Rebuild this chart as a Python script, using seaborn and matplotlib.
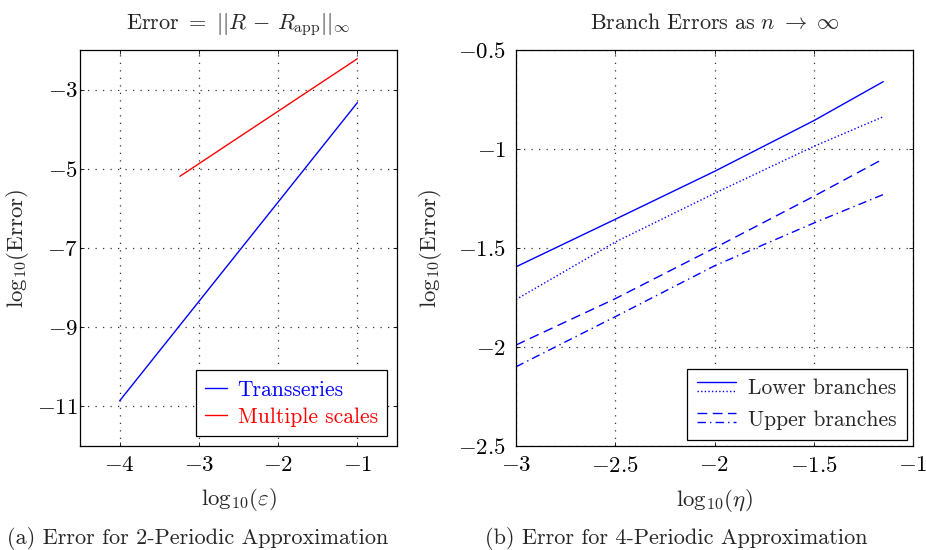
import numpy as np
import pandas as pd
import matplotlib
matplotlib.use("Agg")
import matplotlib.pyplot as plt
import seaborn as sns
from matplotlib.lines import Line2D
from matplotlib.legend_handler import HandlerBase
from matplotlib.ticker import FuncFormatter, FixedLocator

# ---- data (a) ----
trans_x = [-4.0, -1.0]
trans_y = [-10.86, -3.33]
multi_x = [-3.24, -1.0]
multi_y = [-5.19, -2.22]

# ---- data (b) ----
eta_x = [-3.0, -2.5, -2.0, -1.5, -1.15]
lower_solid = [-1.595, -1.355, -1.113, -0.857, -0.66]
lower_dotted = [-1.76, -1.47, -1.224, -0.987, -0.837]
upper_dashed = [-1.99, -1.756, -1.50, -1.239, -1.05]
upper_dashdot = [-2.10, -1.847, -1.59, -1.374, -1.23]

sns.set_theme(style="ticks")
plt.rcParams.update({
    "font.family": "serif",
    "font.serif": ["cmr10"],
    "mathtext.fontset": "cm",
    "axes.formatter.use_mathtext": True,
    "axes.unicode_minus": True,
    "font.size": 16,
    "axes.edgecolor": "black",
    "axes.linewidth": 0.9,
    "xtick.direction": "in",
    "ytick.direction": "in",
    "xtick.color": "black",
    "ytick.color": "black",
    "xtick.labelsize": 16.5,
    "ytick.labelsize": 16.5,
})

W, H = 926, 550
fig = plt.figure(figsize=(W / 100, H / 100), dpi=100)
fig.patch.set_facecolor("white")

def fmt(v, pos):
    return "$%g$" % v

FS = 16
LFS = 15.5
GRID = dict(color="#333333", linestyle=(0, (1, 5)), lw=0.9)

# ---------- left panel ----------
ax1 = fig.add_axes([80 / W, 104 / H, 317 / W, 396 / H])
df_t = pd.DataFrame({"x": trans_x, "y": trans_y})
df_m = pd.DataFrame({"x": multi_x, "y": multi_y})
sns.lineplot(data=df_t, x="x", y="y", ax=ax1, color=(0, 0, 1), lw=1.0, label="Transseries")
sns.lineplot(data=df_m, x="x", y="y", ax=ax1, color=(1, 0, 0), lw=1.0, label="Multiple scales")
ax1.set_xlim(-4.5, -0.5)
ax1.set_ylim(-12, -2)
ax1.xaxis.set_major_locator(FixedLocator([-4, -3, -2, -1]))
ax1.yaxis.set_major_locator(FixedLocator([-11, -9, -7, -5, -3]))
ax1.xaxis.set_major_formatter(FuncFormatter(fmt))
ax1.yaxis.set_major_formatter(FuncFormatter(fmt))
ax1.grid(True, **GRID)
ax1.tick_params(axis="x", length=3, width=0.6, top=True, pad=7)
ax1.tick_params(axis="y", length=3, width=0.6, right=True, pad=1.5)
ax1.set_title(r"$\mathrm{Error}\ =\ ||R\,-\,R_{\mathrm{app}}||_\infty$", pad=15, fontsize=FS)
ax1.set_xlabel(r"$\mathrm{log}_{10}(\varepsilon)$", fontsize=FS + 0.5, labelpad=8)
ax1.set_ylabel(r"$\mathrm{log}_{10}(\mathrm{Error})$", fontsize=FS + 0.5)
ax1.yaxis.set_label_coords((31 - 80) / 317, 0.5)
leg1 = ax1.legend(loc="lower right", frameon=True, fancybox=False, edgecolor="black",
                  fontsize=LFS, labelcolor="linecolor", handlelength=1.0,
                  handletextpad=0.5, borderaxespad=0.45, framealpha=1,
                  borderpad=0.45, labelspacing=0.35)
leg1.get_frame().set_linewidth(0.9)

# ---------- right panel ----------
ax2 = fig.add_axes([516 / W, 104 / H, 397 / W, 396 / H])
df_b = pd.DataFrame({
    "x": eta_x * 4,
    "y": lower_solid + lower_dotted + upper_dashed + upper_dashdot,
    "s": ["ls"] * 5 + ["ld"] * 5 + ["ud"] * 5 + ["udd"] * 5,
})
styles = {"ls": "-", "ld": (0, (1, 1.6)), "ud": (0, (7, 4)), "udd": (0, (6, 3, 1, 3))}
for key, ls in styles.items():
    sub = df_b[df_b["s"] == key]
    sns.lineplot(data=sub, x="x", y="y", ax=ax2, color=(0, 0, 1), lw=1.0, linestyle=ls)
ax2.set_xlim(-3, -1)
ax2.set_ylim(-2.5, -0.5)
ax2.xaxis.set_major_locator(FixedLocator([-3, -2.5, -2, -1.5, -1]))
ax2.yaxis.set_major_locator(FixedLocator([-2.5, -2, -1.5, -1, -0.5]))
ax2.xaxis.set_major_formatter(FuncFormatter(fmt))
ax2.yaxis.set_major_formatter(FuncFormatter(fmt))
ax2.grid(True, **GRID)
ax2.tick_params(length=3, width=0.6, top=True, right=True, pad=7)
ax2.set_title(r"$\mathrm{Branch\ Errors\ as}\ n\ \to\ \infty$", pad=15, fontsize=FS)
ax2.set_xlabel(r"$\mathrm{log}_{10}(\eta)$", fontsize=FS + 0.5, labelpad=8)
ax2.set_ylabel(r"$\mathrm{log}_{10}(\mathrm{Error})$", fontsize=FS + 0.5)
ax2.yaxis.set_label_coords((444 - 516) / 397, 0.5)


class TwoLineHandler(HandlerBase):
    def __init__(self, lss, **kw):
        super().__init__(**kw)
        self.lss = lss

    def create_artists(self, legend, orig_handle, xdescent, ydescent, width, height, fontsize, trans):
        arts = []
        for i, ls in enumerate(self.lss):
            y = height * (0.85 - 0.6 * i) - ydescent
            ln = Line2D([-xdescent, -xdescent + width], [y, y], color=(0, 0, 1),
                        linestyle=ls, lw=1.0)
            ln.set_transform(trans)
            arts.append(ln)
        return arts


h_low = Line2D([], [], color="b")
h_up = Line2D([], [], color="b")
leg2 = ax2.legend([h_low, h_up], ["Lower branches", "Upper branches"],
                  handler_map={h_low: TwoLineHandler([styles["ls"], styles["ld"]]),
                               h_up: TwoLineHandler([styles["ud"], styles["udd"]])},
                  loc="lower right",
                  frameon=True, fancybox=False, edgecolor="black", fontsize=LFS,
                  handlelength=1.85, borderaxespad=0.3, framealpha=1, labelspacing=0.55,
                  borderpad=0.45, handletextpad=0.55)
leg2.get_frame().set_linewidth(0.9)

# ---------- captions ----------
fig.text(198 / W, 1 - 539 / H, "(a) Error for 2-Periodic Approximation", ha="center", va="center", fontsize=FS)
fig.text(676 / W, 1 - 539 / H, "(b) Error for 4-Periodic Approximation", ha="center", va="center", fontsize=FS)

fig.savefig("out.png", dpi=100, facecolor="white")
